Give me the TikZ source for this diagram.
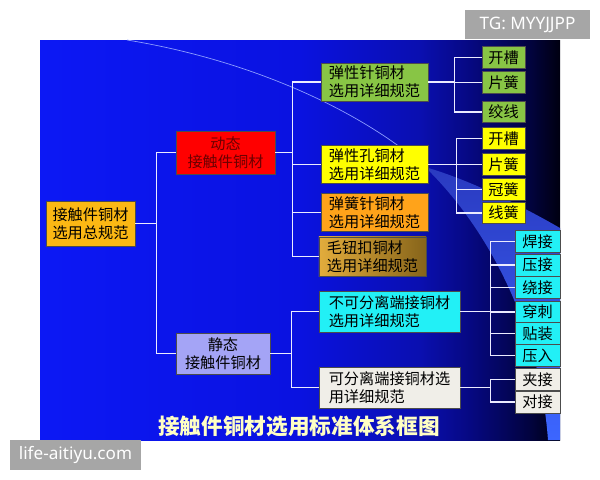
\documentclass[tikz,border=0pt]{standalone}
\usepackage{fontspec}
\setmainfont{Noto Sans CJK SC}
\newfontfamily\wmfont{Noto Sans}
\definecolor{panelA}{HTML}{0C18F5}
\definecolor{panelB}{HTML}{0A12E0}
\definecolor{panelC}{HTML}{0A0FB0}
\definecolor{panelD}{HTML}{060880}
\definecolor{panelE}{HTML}{020340}
\definecolor{panelF}{HTML}{000010}
\definecolor{bandtop}{HTML}{2A3AC0}
\definecolor{bandbot}{HTML}{3C66FF}
\definecolor{arcline}{HTML}{8C9CFF}
\definecolor{cgold}{HTML}{FBB814}
\definecolor{cred}{HTML}{FF0000}
\definecolor{credtext}{HTML}{6B0000}
\definecolor{clav}{HTML}{A4A4F6}
\definecolor{cgreen}{HTML}{88C545}
\definecolor{cyellow}{HTML}{FFFF00}
\definecolor{corange}{HTML}{FFA31A}
\definecolor{cbrownA}{HTML}{E2AC3C}
\definecolor{cbrownB}{HTML}{86641A}
\definecolor{ccyan}{HTML}{22F0F6}
\definecolor{cwhite}{HTML}{F0EEE8}
\definecolor{ctitle}{HTML}{FFFFC4}
\definecolor{cwm}{HTML}{A6A6A6}
\pgfdeclarehorizontalshading{panelshade}{100bp}{color(0bp)=(panelA); color(25bp)=(panelA); color(50bp)=(panelB); color(61.5bp)=(panelC); color(66.5bp)=(panelD); color(72bp)=(panelE); color(75bp)=(panelF); color(100bp)=(panelF)}
\begin{document}
\begin{tikzpicture}[x=0.025cm, y=-0.025cm,
	box/.style={draw=black!70, line width=0.5pt, inner sep=0pt, text=black, font=\fontsize{10.8}{12.6}\selectfont},
	rootbox/.style={box, fill=cgold, align=left, minimum width=2.225cm, minimum height=1.125cm},
	dynbox/.style={box, fill=cred, text=credtext, align=center, minimum width=2.475cm, minimum height=1.075cm},
	stabox/.style={box, fill=clav, align=center, minimum width=2.35cm, minimum height=1.025cm},
	midbox/.style={box, align=left, minimum width=2.675cm, minimum height=0.95cm},
	widebox/.style={box, align=left, minimum width=3.525cm, minimum height=1.025cm},
	leaf/.style={box, minimum width=1.075cm, minimum height=0.54cm},
	wideleaf/.style={box, minimum width=1.125cm, minimum height=0.55cm},
	link/.style={draw=white!92!blue, line width=1.2pt},
	wm/.style={fill=cwm, text=white, inner sep=0pt, font=\wmfont\fontsize{12.2}{14}\selectfont}]
	\fill[white] (0,0) rectangle (600,480);
	\useasboundingbox (0,0) rectangle (600,480);
	% fondo
	\shade[shading=panelshade] (40,40) rectangle (560,440);
	\shade[top color=bandtop, bottom color=bandbot] (425,167) .. controls (470,180) and (520,205) .. (560,228)
		-- (560,440) -- (548,440) .. controls (540,330) and (490,230) .. (425,167) -- cycle;
	\draw[arcline, line width=0.5pt] (127,40) .. controls (250,60) and (360,110) .. (425,167);
	% primo livello
	\node[rootbox] (root) at (90.5,223.5) {接触件铜材\\选用总规范};
	\node[dynbox] (dyn) at (225.5,152.5) {动态\\接触件铜材};
	\node[stabox] (sta) at (223,353.5) {静态\\接触件铜材};
	% secondo livello
	\node[midbox, fill=cgreen] (pin) at (374.5,82) {弹性针铜材\\选用详细规范};
	\node[midbox, fill=cyellow] (hole) at (374.5,164.5) {弹性孔铜材\\选用详细规范};
	\node[midbox, fill=corange] (spring) at (374.5,212.5) {弹簧针铜材\\选用详细规范};
	\node[midbox, minimum height=0.975cm, left color=cbrownA, right color=cbrownB] (button) at (372.5,256.5) {毛钮扣铜材\\选用详细规范};
	\node[widebox, fill=ccyan] (fixed) at (389.5,311.5) {不可分离端接铜材\\选用详细规范};
	\node[widebox, fill=cwhite] (sep) at (389.5,387.5) {可分离端接铜材选\\用详细规范};
	% foglie
	\foreach \t/\y [count=\i] in {开槽/57.5, 片簧/82.5, 绞线/112}
		\node[leaf, fill=cgreen] (g\i) at (503.5,\y) {\t};
	\foreach \t/\y [count=\i] in {开槽/138.5, 片簧/164.5, 冠簧/189.5, 线簧/213}
		\node[leaf, fill=cyellow] (y\i) at (503.5,\y) {\t};
	\foreach \t/\y [count=\i] in {焊接/241.5, 压接/265, 绕接/287.5, 穿刺/312, 贴装/333.5, 压入/355.5}
		\node[wideleaf, fill=ccyan] (c\i) at (537.5,\y) {\t};
	\foreach \t/\y [count=\i] in {夹接/379.5, 对接/402}
		\node[wideleaf, fill=cwhite] (w\i) at (537.5,\y) {\t};
	% collegamenti
	\foreach \c in {dyn,sta}
		\draw[link] (root.east) -- ++(21,0) |- (\c.west);
	\foreach \c in {pin,hole,spring,button}
		\draw[link] (dyn.east) -- ++(17,0) |- (\c.west);
	\foreach \c in {fixed,sep}
		\draw[link] (sta.east) -- ++(21,0) |- (\c.west);
	\foreach \i in {1,2,3}
		\draw[link] (pin.east) -- ++(26,0) |- (g\i.west);
	\foreach \i in {1,...,4}
		\draw[link] (hole.east) -- ++(28,0) |- (y\i.west);
	\foreach \i in {1,...,6}
		\draw[link] (fixed.east) -- ++(30,0) |- (c\i.west);
	\foreach \i in {1,2}
		\draw[link] (sep.east) -- ++(30,0) |- (w\i.west);
	% titolo
	\node[text=ctitle, font=\fontsize{15.4}{18}\selectfont\bfseries] (title) at (299,426) {接触件铜材选用标准体系框图};
	\node[wm, minimum width=3.125cm, minimum height=0.725cm] (tg) at (527.5,24.5) {TG: MYYJJPP};
	\node[wm, minimum width=3.275cm, minimum height=0.75cm] (site) at (75.5,455) {life-aitiyu.com};
\end{tikzpicture}
\end{document}
